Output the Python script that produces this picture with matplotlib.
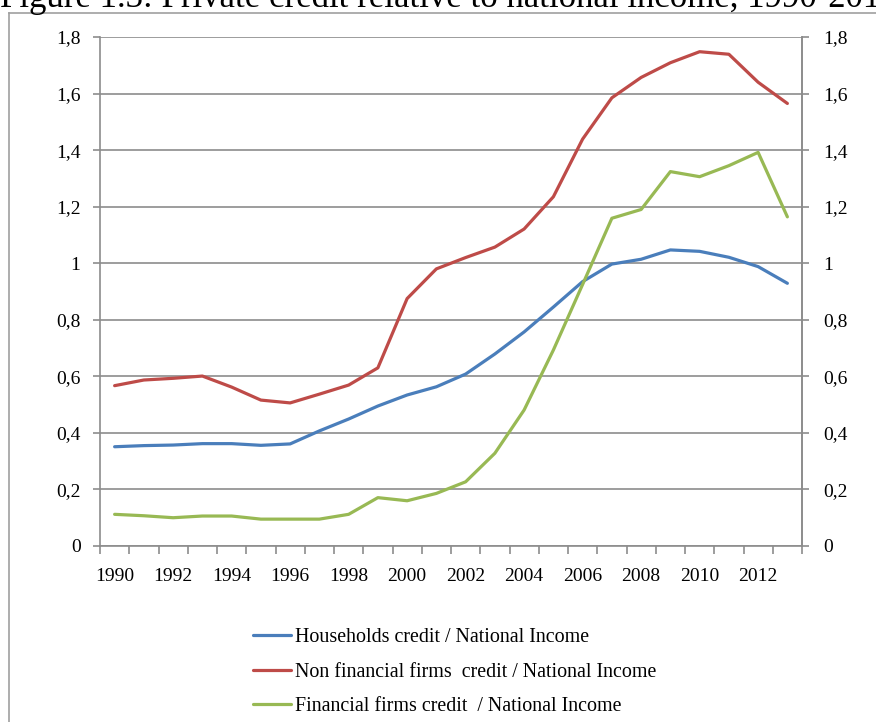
import numpy as np
import matplotlib
matplotlib.use('Agg')
import matplotlib.pyplot as plt
from matplotlib.lines import Line2D

# ------------------------Data--------------------------------------------------
years = list(range(1990, 2014))
households = [0.351, 0.355, 0.357, 0.362, 0.362, 0.356, 0.361, 0.407, 0.449, 0.495,
              0.534, 0.563, 0.608, 0.679, 0.757, 0.845, 0.935, 0.997, 1.014, 1.047,
              1.042, 1.021, 0.988, 0.929]
nonfin_firms = [0.567, 0.587, 0.593, 0.601, 0.562, 0.516, 0.506, 0.537, 0.569, 0.630,
                0.875, 0.980, 1.020, 1.057, 1.121, 1.235, 1.439, 1.585, 1.657, 1.709,
                1.748, 1.739, 1.640, 1.565]
fin_firms = [0.112, 0.107, 0.100, 0.106, 0.106, 0.095, 0.095, 0.095, 0.112, 0.171,
             0.160, 0.186, 0.227, 0.328, 0.481, 0.693, 0.925, 1.159, 1.190, 1.324,
             1.306, 1.345, 1.392, 1.164]
series_names = ['Households credit / National Income',
                'Non financial firms  credit / National Income',
                'Financial firms credit  / National Income']
series_colors = ['#4A7EBB', '#BE4B48', '#98B954']
yticks = [0, 0.2, 0.4, 0.6, 0.8, 1.0, 1.2, 1.4, 1.6, 1.8]
ytick_labels = ['0', '0,2', '0,4', '0,6', '0,8', '1', '1,2', '1,4', '1,6', '1,8']
title = 'Figure 1.3: Private credit relative to national income, 1990-2013'
# ------------------------------------------------------------------------------
plt.rcParams['font.family'] = ['Liberation Serif', 'DejaVu Serif']
W, H = 876, 722
fig = plt.figure(figsize=(W / 100, H / 100), dpi=100)

grid_col = '#8c8c8c'
tick_fs = 14
ax = fig.add_axes([100 / W, 1 - 546 / H, 702 / W, 509 / H])
x = np.arange(len(years))
for vals, name, col in zip([households, nonfin_firms, fin_firms], series_names, series_colors):
    ax.plot(x, vals, color=col, lw=2.3, label=name, solid_joinstyle='round',
            solid_capstyle='round')

ax.set_xlim(-0.5, len(years) - 0.5)
ax.set_ylim(0, 1.8)
ax.set_yticks(yticks)
ax.set_yticklabels(ytick_labels)
ax.grid(axis='y', color=grid_col, lw=1.2)
ax.set_axisbelow(True)

# category boundaries carry the tick marks, labels sit between them
ax.set_xticks(np.arange(-0.5, len(years), 1.0))
ax.set_xticklabels([])
ax.set_xticks(x[::2], minor=True)
ax.set_xticklabels([str(y) for y in years[::2]], minor=True)
ax.tick_params(axis='x', which='major', length=6, width=1.2, color=grid_col, direction='out')
ax.tick_params(axis='x', which='minor', length=0, pad=16, labelsize=tick_fs)
ax.tick_params(axis='y', length=5, width=1.2, color=grid_col, pad=9, labelsize=tick_fs)

ax.spines['top'].set_visible(False)
for s in ['left', 'right', 'bottom']:
    ax.spines[s].set_color(grid_col)
    ax.spines[s].set_linewidth(1.2)

ax2 = ax.twinx()
ax2.set_ylim(0, 1.8)
ax2.set_yticks(yticks)
ax2.set_yticklabels(ytick_labels)
ax2.tick_params(axis='y', length=5, width=1.2, color=grid_col, pad=10, labelsize=tick_fs)
for s in ['top', 'left', 'bottom']:
    ax2.spines[s].set_visible(False)
ax2.spines['right'].set_color(grid_col)
ax2.spines['right'].set_linewidth(1.2)

# chart frame (top and left edges visible)
frame_col = '#a0a0a0'
fig.add_artist(Line2D([9 / W, 1.0], [1 - 13 / H, 1 - 13 / H], color=frame_col, lw=1.2,
                      transform=fig.transFigure))
fig.add_artist(Line2D([9 / W, 9 / W], [1 - 13 / H, 0.0], color=frame_col, lw=1.2,
                      transform=fig.transFigure))

fig.text(0.0, 1 - 7 / H, title, fontsize=25, va='baseline', ha='left', color='black')

handles, labels = ax.get_legend_handles_labels()
fig.legend(handles, labels, loc='upper left', bbox_to_anchor=(253 / W, 1 - 628 / H),
           frameon=False, fontsize=14.4, handlelength=1.9, handletextpad=0.2,
           labelspacing=0.78, borderpad=0, borderaxespad=0)

fig.savefig('out.png', dpi=100)
